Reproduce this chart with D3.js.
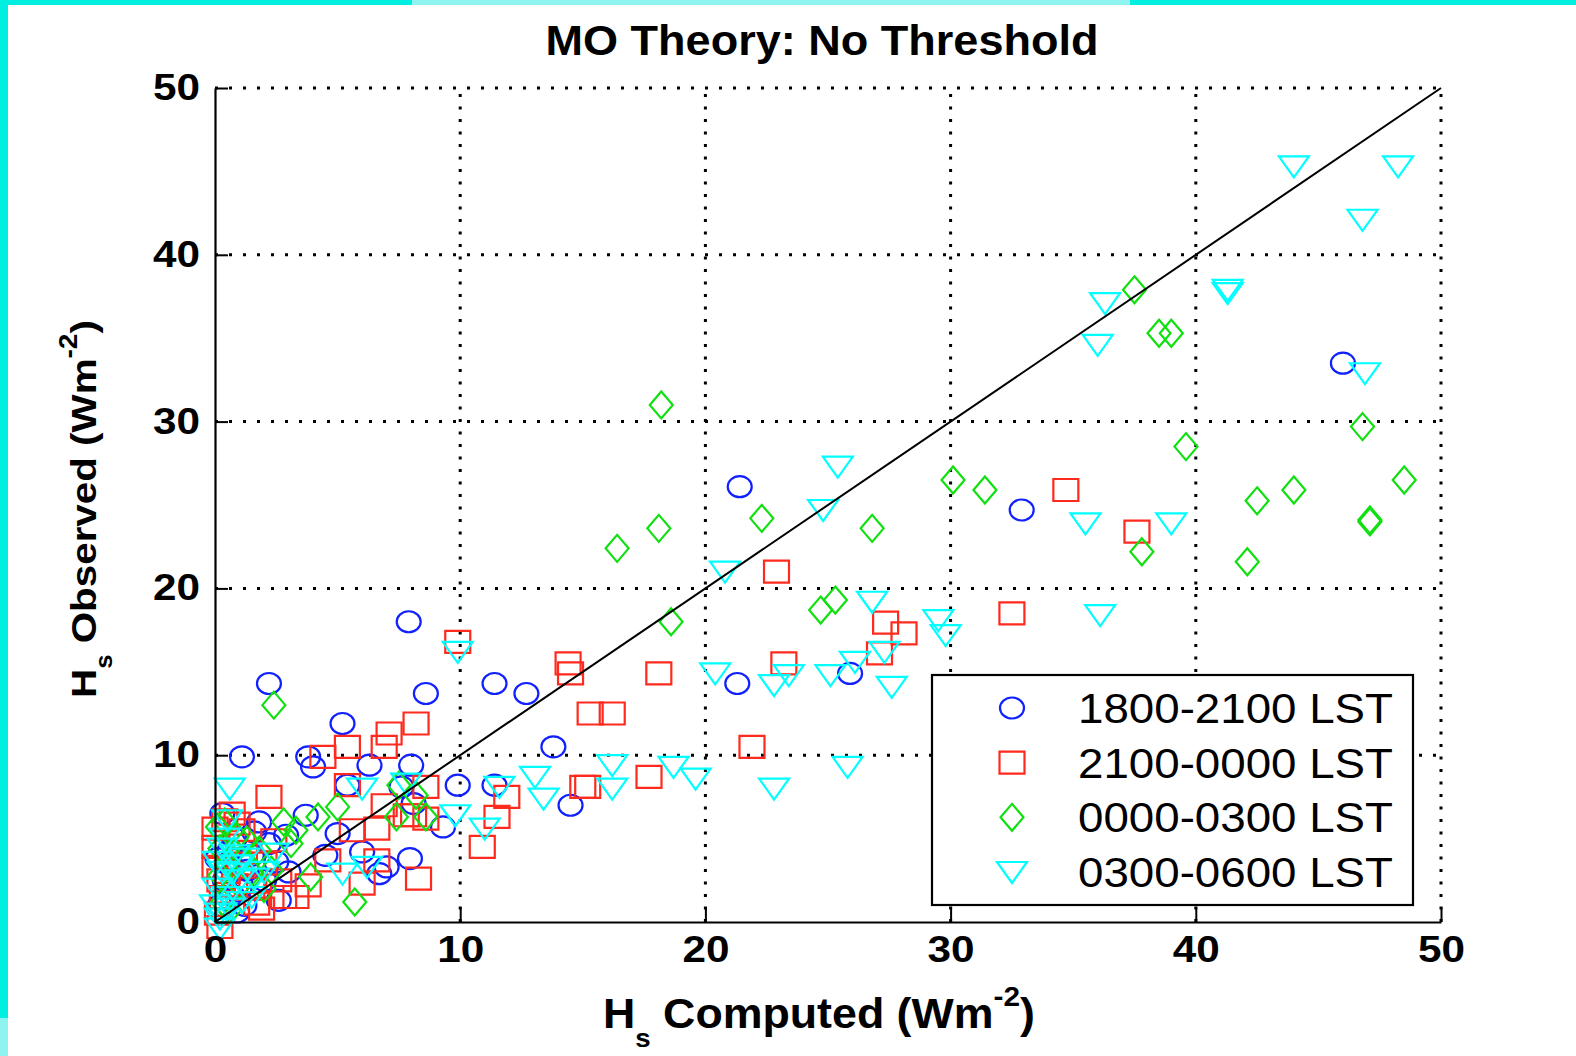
<!DOCTYPE html>
<html>
<head>
<meta charset="utf-8">
<script src="https://cdn.jsdelivr.net/npm/d3@7"></script>
<style>
  html, body { margin: 0; padding: 0; background: #fff; }
  svg { display: block; }
  text { font-family: "Liberation Sans", Arial, Helvetica, sans-serif; }
</style>
</head>
<body>
<svg id="chart" width="1576" height="1056"></svg>
<script>
// ---------------- data ----------------
const chartTitle = "MO Theory: No Threshold";
const seriesNames = ["1800-2100 LST", "2100-0000 LST", "0000-0300 LST", "0300-0600 LST"];
const xTicks = [0, 10, 20, 30, 40, 50];
const yTicks = [0, 10, 20, 30, 40, 50];
const refLine = [[0, 0], [50, 50]];

// 1800-2100 LST (circles): [computed, observed]
const series1800 = [
  [2.2,14.3],[1.1,9.9],[5.2,11.9],[3.8,9.9],[4.0,9.3],[7.9,18.0],[8.6,13.7],[8.0,9.4],[6.3,9.4],
  [5.4,8.2],[7.6,8.1],[11.4,14.3],[12.7,13.7],[13.8,10.5],[9.9,8.2],[11.4,8.2],[9.3,5.7],[14.5,7.0],
  [21.4,26.1],[21.3,14.3],[25.9,14.9],[32.9,24.7],[46.0,33.5],[7.95,3.8],[7.0,3.3],[3.7,6.4],
  [2.2,4.7],[2.6,1.3],[5.0,5.3],[6.7,2.9],[0.3,6.5],[6.0,4.2],[8.1,7.1],[0.5,3.5],[1.0,2.0],
  [0.2,1.0],[1.5,4.0],[0.8,5.0],[2.0,2.5],[1.2,1.0],[3.0,3.0],[0.4,2.5],[1.8,6.0],[4.5,4.0],
  [0.6,4.3],[1.3,3.1],[0.9,0.6],[2.5,3.6],[0.1,3.8],[1.6,5.4],[0.7,1.6],[2.9,5.2]
];
// 2100-0000 LST (squares)
const series2100 = [
  [9.9,16.8],[14.4,15.5],[14.5,14.9],[18.1,14.9],[15.3,12.5],[16.2,12.5],[22.9,21.0],[23.2,15.5],
  [27.35,17.95],[28.1,17.3],[27.1,16.1],[32.5,18.5],[34.7,25.9],[37.6,23.4],[21.9,10.5],[17.7,8.7],
  [15.0,8.1],[15.2,8.1],[11.5,6.3],[11.9,7.5],[10.9,4.5],[8.2,11.9],[7.1,11.3],[6.9,10.5],[5.4,10.5],
  [4.4,9.9],[2.2,7.5],[8.6,8.1],[5.4,8.2],[6.9,7.0],[8.3,2.6],[5.6,5.5],[6.6,5.6],[6.6,3.7],[4.6,3.7],
  [2.4,4.9],[1.9,0.8],[3.3,1.5],[2.8,1.5],[0.7,6.5],[0.9,5.9],[0.0,4.5],[7.8,6.4],[8.1,6.4],[8.6,6.2],
  [6.0,2.3],[3.8,2.2],[0.1,0.5],[0.5,3.0],[1.0,3.5],[0.3,1.5],[1.5,2.0],[1.2,4.2],[2.0,3.5],[0.2,2.5],
  [0.0,5.6],[0.4,6.1],[1.1,5.5],[0.2,-0.3],[0.8,2.2],[1.7,1.1],[0.0,3.3],[2.6,2.5]
];
// 0000-0300 LST (diamonds)
const series0000 = [
  [18.2,31.0],[16.4,22.4],[18.1,23.6],[18.6,18.0],[22.3,24.2],[26.8,23.6],[24.7,18.7],[25.3,19.3],
  [30.1,26.5],[31.4,25.9],[37.5,37.9],[38.5,35.3],[39.0,35.3],[39.6,28.5],[46.8,29.7],[48.5,26.5],
  [44.0,25.9],[42.5,25.25],[47.1,24.0],[47.1,24.1],[37.8,22.2],[42.1,21.6],[2.4,13.0],[5.7,1.2],
  [7.5,8.2],[5.0,6.9],[4.2,6.3],[3.3,5.5],[8.2,7.6],[8.6,6.3],[7.4,6.3],[3.9,2.7],[2.8,6.0],[0.1,5.7],
  [1.3,4.9],[3.1,4.7],[0.5,3.5],[1.0,2.2],[0.3,1.2],[1.5,3.0],[0.8,4.2],[2.0,2.0],[0.2,2.8],
  [0.4,6.0],[1.1,3.7],[0.6,0.7],[1.8,4.3],[0.9,5.1],[0.2,4.4],[2.3,3.1]
];
// 0300-0600 LST (down triangles)
const series0300 = [
  [44.0,45.3],[48.25,45.3],[46.8,42.1],[41.3,37.9],[41.3,37.7],[36.3,37.1],[36.0,34.6],[46.9,32.9],
  [25.4,27.3],[24.8,24.7],[35.5,23.9],[39.0,23.9],[20.8,21.0],[36.1,18.4],[26.8,19.2],[29.5,18.1],
  [29.8,17.2],[20.4,14.9],[22.8,14.2],[23.4,14.8],[25.1,14.8],[26.1,15.6],[27.3,16.2],[27.6,14.1],
  [22.8,8.0],[25.8,9.3],[16.2,9.4],[16.2,8.0],[18.7,9.3],[19.6,8.6],[13.05,8.7],[13.4,7.4],[11.6,8.1],
  [9.9,16.2],[9.8,6.4],[11.0,5.6],[7.8,8.3],[0.6,8.0],[6.0,8.0],[5.2,2.9],[6.2,3.3],[0.2,0.5],
  [0.5,1.5],[0.3,3.0],[1.0,2.5],[0.8,4.0],[0.1,2.0],[1.5,1.5],[0.4,5.0],[2.0,3.0],[0.2,0.2],
  [1.2,3.8],[0.6,0.8],[0.1,3.6],[0.7,2.9],[0.3,4.4],[1.1,1.2],[0.0,1.0],[0.5,6.1],[1.6,2.6],
  [0.9,3.4],[0.2,-0.4],[2.4,4.1]
];

// ---------------- drawing ----------------
const svg = d3.select("#chart");
const FONT_SCALE_TICK = 23.5; // px per digit (tick labels are horizontally stretched)

// cyan frame of the original picture
svg.append("rect").attr("x", 0).attr("y", 0).attr("width", 1576).attr("height", 5).attr("fill", "#00efe0");
svg.append("rect").attr("x", 412).attr("y", 0).attr("width", 718).attr("height", 5).attr("fill", "#8ff3ef");
svg.append("rect").attr("x", 0).attr("y", 0).attr("width", 8).attr("height", 1056).attr("fill", "#00efe0");
svg.append("rect").attr("x", 0).attr("y", 1018).attr("width", 8).attr("height", 38).attr("fill", "#8ff3ef");

const x = d3.scaleLinear().domain([0, 50]).range([215, 1441]);
const y = d3.scaleLinear().domain([0, 50]).range([922, 88]);

// grid (dotted)
const grid = svg.append("g").attr("stroke", "#000").attr("stroke-width", 3);
grid.selectAll("line.v").data(xTicks.filter(d => d > 0)).join("line")
  .attr("x1", d => x(d)).attr("x2", d => x(d))
  .attr("y1", y(0)).attr("y2", y(50))
  .attr("stroke-dasharray", "3 9.5");
grid.selectAll("line.h").data(yTicks.filter(d => d > 0)).join("line")
  .attr("y1", d => y(d)).attr("y2", d => y(d))
  .attr("x1", x(0)).attr("x2", x(50))
  .attr("stroke-dasharray", "3 11");

// marker shapes (pixel units)
const shapes = {
  circle: "M-12,0 A12,10.5 0 1,0 12,0 A12,10.5 0 1,0 -12,0 Z",
  square: "M-12.5,-11 H12.5 V11 H-12.5 Z",
  diamond: "M0,-13.5 L11.5,0 L0,13.5 L-11.5,0 Z",
  triangle: "M-15,-10 H15 L0,11 Z"
};
const seriesDefs = [
  { name: seriesNames[0], data: series1800, shape: "circle", color: "#1020ff" },
  { name: seriesNames[1], data: series2100, shape: "square", color: "#ff2a1e" },
  { name: seriesNames[2], data: series0000, shape: "diamond", color: "#10e010" },
  { name: seriesNames[3], data: series0300, shape: "triangle", color: "#00ffff" }
];

const plot = svg.append("g");
seriesDefs.forEach(s => {
  plot.append("g").selectAll("path").data(s.data).join("path")
    .attr("d", shapes[s.shape])
    .attr("transform", d => `translate(${x(d[0])},${y(d[1])})`)
    .attr("fill", "none")
    .attr("stroke", s.color)
    .attr("stroke-width", 2.2);
});

// 1:1 line
svg.append("path")
  .datum(refLine)
  .attr("d", d3.line().x(d => x(d[0])).y(d => y(d[1])))
  .attr("stroke", "#000").attr("stroke-width", 2).attr("fill", "none");

// axes
function styleAxis(g) {
  g.select(".domain").attr("stroke", "#000").attr("stroke-width", 2.2);
  g.selectAll(".tick line").attr("stroke", "#000").attr("stroke-width", 2);
  g.selectAll(".tick text")
    .attr("fill", "#000")
    .style("font-size", "36px").style("font-weight", "bold")
    .attr("textLength", function() { return this.textContent.length * FONT_SCALE_TICK; })
    .attr("lengthAdjust", "spacingAndGlyphs");
}
svg.append("g").attr("transform", `translate(0,${y(0)})`)
  .call(d3.axisBottom(x).tickValues(xTicks).tickFormat(d3.format("d"))
        .tickSizeInner(-15).tickSizeOuter(0).tickPadding(14))
  .call(g => g.attr("font-family", null).attr("font-size", null))
  .call(styleAxis);
svg.append("g").attr("transform", `translate(${x(0)},0)`)
  .call(d3.axisLeft(y).tickValues(yTicks).tickFormat(d3.format("d"))
        .tickSizeInner(-13).tickSizeOuter(0).tickPadding(15))
  .call(g => g.attr("font-family", null).attr("font-size", null))
  .call(styleAxis);

// title
svg.append("text")
  .attr("x", 822).attr("y", 55)
  .attr("text-anchor", "middle")
  .style("font-size", "42px").style("font-weight", "bold")
  .attr("textLength", 553).attr("lengthAdjust", "spacingAndGlyphs")
  .text(chartTitle);

// axis labels built from tspans, then stretched to the measured target length
function label(parent, parts, size) {
  const t = parent.append("text").attr("x", 0).attr("y", 0)
    .style("font-size", size + "px").style("font-weight", "bold");
  parts.forEach(p => {
    t.append("tspan").attr("dy", p.dy || 0).style("font-size", (p.size || size) + "px").text(p.t);
  });
  return t;
}
// x label
const xl = svg.append("g");
const xlt = label(xl, [
  { t: "H" }, { t: "s", dy: 19, size: 26 }, { t: " Computed (Wm", dy: -19 },
  { t: "-2", dy: -22, size: 28 }, { t: ")", dy: 22 }
], 42);
const xw = xlt.node().getBBox().width;
xl.attr("transform", `translate(603,1028) scale(${432 / xw},1)`);

// y label
const yl = svg.append("g");
const ylt = label(yl, [
  { t: "H" }, { t: "s", dy: 16, size: 23 }, { t: " Observed (Wm", dy: -16 },
  { t: "-2", dy: -19, size: 25 }, { t: ")", dy: 19 }
], 36);
const yw = ylt.node().getBBox().width;
yl.attr("transform", `translate(96,698) rotate(-90) scale(${378 / yw},1)`);

// legend
const lg = svg.append("g");
lg.append("rect").attr("x", 932).attr("y", 675).attr("width", 481).attr("height", 230)
  .attr("fill", "#fff").attr("stroke", "#000").attr("stroke-width", 2.2);
const rowY = d3.scalePoint().domain(seriesNames).range([708, 872]);
seriesDefs.forEach(s => {
  lg.append("path").attr("d", shapes[s.shape])
    .attr("transform", `translate(1012,${rowY(s.name)})`)
    .attr("fill", "none").attr("stroke", s.color).attr("stroke-width", 2.2);
  lg.append("text").attr("x", 1078).attr("y", rowY(s.name) + 15)
    .style("font-size", "42px")
    .attr("textLength", 315).attr("lengthAdjust", "spacingAndGlyphs")
    .text(s.name);
});
</script>
</body>
</html>
